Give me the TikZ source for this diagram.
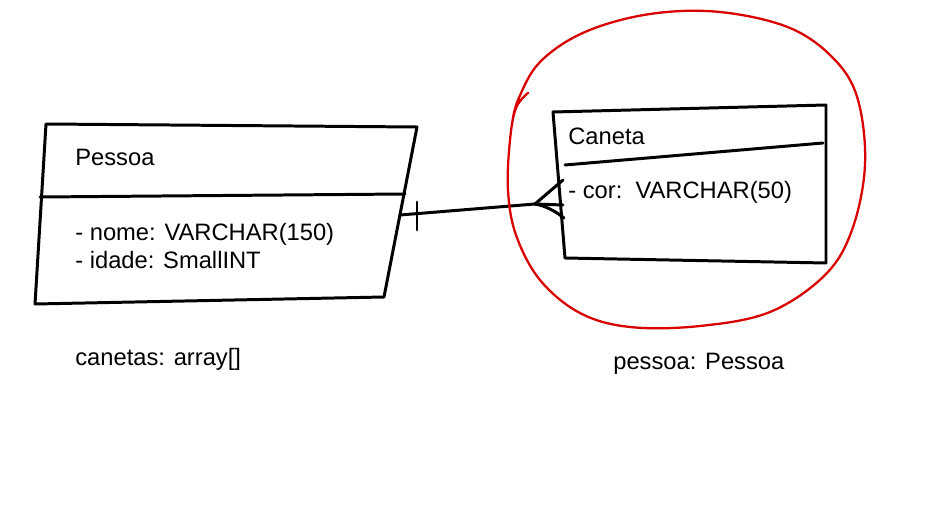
\documentclass[tikz,border=0pt]{standalone}
\usepackage{fontspec}
\setmainfont{Liberation Sans}
\usetikzlibrary{positioning}
\tikzset{
  sketch/.style={draw=black, line width=1.7pt, line join=round, line cap=round},
  marker/.style={draw=red!85!black, line width=1.3pt, line cap=round, line join=round},
  umltext/.style={anchor=base west, inner sep=0pt, font=\fontsize{13.5}{16}\selectfont},
}
\begin{document}
\begin{tikzpicture}[x=0.02cm, y=-0.02cm]
  \useasboundingbox (0,0) rectangle (931,510);

  % --- Pessoa ---
  \draw[sketch] (46,124) -- (417,127) -- (384,297) -- (35,304) -- cycle;
  \draw[sketch] (40,197) -- (405,194);
  \node[umltext] (pessoa) at (75,166) {Pessoa};
  \node[umltext] (nome) at (75,241) {- nome: VARCHAR(150)};
  \node[umltext] (idade) at (75,269) {- idade: SmallINT};
  \node[umltext] (canetas) at (75,365) {canetas: array[]};

  % --- Caneta ---
  \draw[sketch] (553,112) -- (826,105) -- (826,263) -- (565,258) -- cycle;
  \draw[sketch] (565,165) -- (823,143);
  \node[umltext] (caneta) at (568,145) {Caneta};
  \node[umltext] (cor) at (568,199) {- cor:\ \ VARCHAR(50)};
  \node[umltext] (pessoaref) at (613,370) {pessoa: Pessoa};

  % --- Relationship (one to many) ---
  \coordinate (pessoaR) at (400,215);
  \coordinate (crow) at (535,204);
  \coordinate (canetaL) at (563,205);
  \draw[sketch] (pessoaR) -- (crow) -- (canetaL);
  \draw[sketch] (417,202) -- (417,230);
  \draw[sketch] (563,180) -- (crow);
  \draw[sketch] (crow) .. controls (546,206) and (555,211) .. (564,218);

  % --- Highlight ---
  \draw[marker] plot[smooth, tension=0.6] coordinates {
    (528,93) (516,108) (510,140) (508,190) (516,235) (540,280)
    (580,313) (630,327) (700,326) (770,312) (825,275) (852,230)
    (865,165) (858,100) (835,60) (790,28) (720,12) (650,14)
    (585,32) (540,62) (518,100) (512,125)};
\end{tikzpicture}
\end{document}
